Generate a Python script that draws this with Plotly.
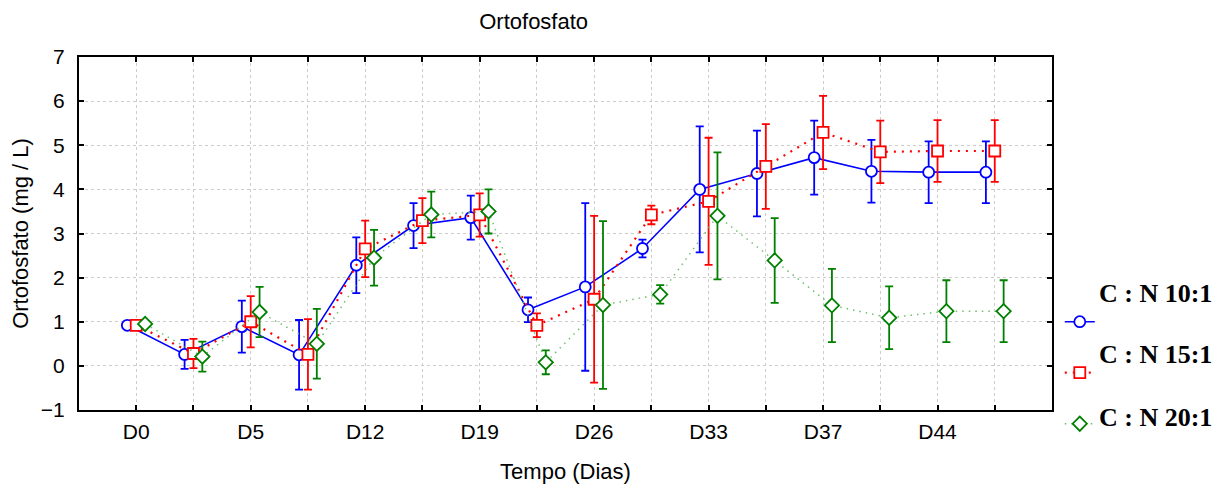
import plotly.graph_objects as go

# Sampling points along the x axis (16 collections), labelled every other one
coletas = list(range(16))
rotulos = ["D0", "", "D5", "", "D12", "", "D19", "", "D26", "", "D33", "", "D37", "", "D44", ""]

# Orthophosphate means (mg/L) and error half-widths for each C:N ratio
media_10 = [0.92, 0.26, 0.89, 0.25, 2.28, 3.18, 3.36, 1.27, 1.79, 2.66, 4.00, 4.36, 4.72, 4.41, 4.39, 4.39]
erro_10 = [0.03, 0.33, 0.59, 0.79, 0.63, 0.51, 0.50, 0.28, 1.90, 0.20, 1.43, 0.97, 0.84, 0.71, 0.70, 0.70]

media_15 = [0.92, 0.28, 1.00, 0.26, 2.65, 3.29, 3.42, 0.92, 1.51, 3.42, 3.73, 4.52, 5.29, 4.85, 4.87, 4.87]
erro_15 = [0.03, 0.33, 0.58, 0.80, 0.64, 0.51, 0.49, 0.27, 1.89, 0.21, 1.44, 0.96, 0.83, 0.71, 0.70, 0.70]

media_20 = [0.95, 0.21, 1.22, 0.50, 2.45, 3.43, 3.50, 0.08, 1.38, 1.62, 3.40, 2.39, 1.37, 1.09, 1.24, 1.24]
erro_20 = [0.03, 0.34, 0.57, 0.79, 0.63, 0.52, 0.50, 0.27, 1.90, 0.21, 1.44, 0.96, 0.83, 0.71, 0.70, 0.70]

nomes = ["C : N 10:1", "C : N 15:1", "C : N 20:1"]

series = [
    dict(media=media_10, erro=erro_10, desloc=-0.155, cor="#0000ff",
         linha=dict(color="#0000ff", width=1.6, dash="solid"), simbolo="circle"),
    dict(media=media_15, erro=erro_15, desloc=0.0, cor="#ff0000",
         linha=dict(color="#ff0000", width=2.2, dash="2px,6px"), simbolo="square"),
    dict(media=media_20, erro=erro_20, desloc=0.155, cor="#008000",
         linha=dict(color="#6fbf6f", width=1.5, dash="1.5px,5px"), simbolo="diamond"),
]

# each series gets its own legend box so the key symbols can sit under their labels
legendas = ["legend", "legend2", "legend3"]
y_simbolo = [0.249, 0.105, -0.040]
y_rotulo = [0.329, 0.156, -0.020]

fig = go.Figure()
for s, nome, leg in zip(series, nomes, legendas):
    fig.add_trace(go.Scatter(
        x=[c + s["desloc"] for c in coletas],
        y=s["media"],
        mode="lines+markers",
        name=" ",
        line=s["linha"],
        marker=dict(symbol=s["simbolo"], size=11, color="white",
                    line=dict(color=s["cor"], width=1.8)),
        error_y=dict(type="data", array=s["erro"], visible=True,
                     color=s["cor"], thickness=1.8, width=4),
        legend=leg,
        hovertext=nome,
    ))

eixo = dict(
    showline=True, linecolor="black", linewidth=2, mirror="ticks",
    ticks="inside", ticklen=5, tickwidth=1.5, tickcolor="black",
    showgrid=True, gridcolor="#cccccc", griddash="dot", gridwidth=1,
    zeroline=False, automargin=False,
    tickfont=dict(family="Liberation Sans, Arial", size=21, color="black"),
    title_font=dict(family="Liberation Sans, Arial", size=22, color="black"),
)

fig.update_xaxes(**eixo, range=[-1, 16], tickmode="array", tickvals=coletas,
                 ticktext=rotulos, ticklabelstandoff=2,
                 title_text="Tempo (Dias)", title_standoff=24)
fig.update_yaxes(**eixo, range=[-1, 7], tickmode="linear", tick0=0, dtick=1,
                 ticklabelstandoff=8,
                 title_text="Ortofosfato (mg / L)", title_standoff=6)

legenda_base = dict(font=dict(family="Liberation Serif", size=14, color="black"),
                    bgcolor="rgba(0,0,0,0)", borderwidth=0,
                    xanchor="left", yanchor="middle", itemwidth=30)

legendas_layout = {leg: dict(**legenda_base, x=1.008, y=ys)
                   for leg, ys in zip(legendas, y_simbolo)}

fig.update_layout(
    width=1224, height=484,
    margin=dict(l=79, r=172, t=57, b=74),
    paper_bgcolor="white", plot_bgcolor="white",
    title=dict(text="Ortofosfato", x=0.436, xanchor="center", y=0.955, yanchor="middle",
               font=dict(family="Liberation Sans, Arial", size=22, color="black")),
    showlegend=True,
    **legendas_layout,
)

# series labels of the key, set in bold serif to the right of the symbols
for nome, yr in zip(nomes, y_rotulo):
    fig.add_annotation(text=nome, xref="paper", yref="paper", x=1.046, y=yr,
                       xanchor="left", yanchor="middle", showarrow=False,
                       font=dict(family="Liberation Serif, Times New Roman", size=26,
                                 color="black", weight="bold"))

fig.write_html("out.html")
